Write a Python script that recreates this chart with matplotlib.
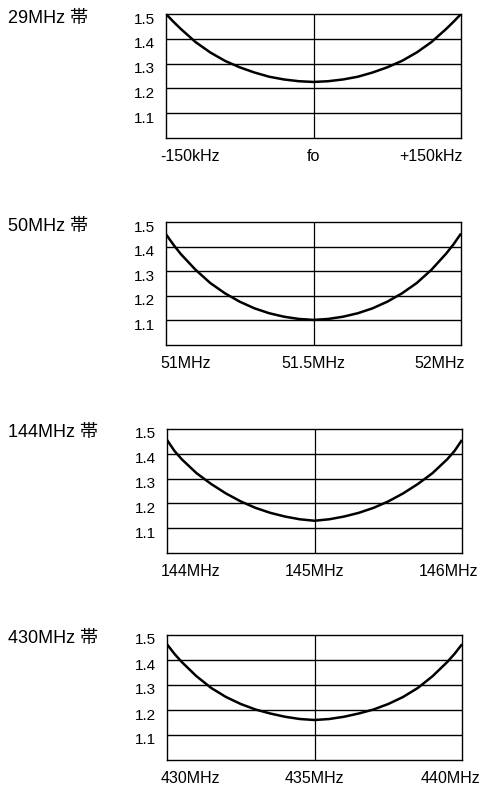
import matplotlib.pyplot as plt
import matplotlib.transforms as mtransforms

plt.rcParams['font.family'] = ['Liberation Sans', 'Noto Sans CJK JP', 'DejaVu Sans']

# band titles
bands = ["29MHz 帯", "50MHz 帯", "144MHz 帯", "430MHz 帯"]

# frequencies (x) and SWR
freq_29 = [-150, -142.5, -135, -120, -105, -90, -75, -60, -45, -30, -15, 0,
           15, 30, 45, 60, 75, 90, 105, 120, 135, 142.5, 150]
swr_29 = [1.50, 1.469, 1.44, 1.387, 1.345, 1.311, 1.285, 1.264, 1.247, 1.236, 1.229, 1.226,
          1.229, 1.236, 1.247, 1.264, 1.285, 1.311, 1.345, 1.387, 1.44, 1.469, 1.50]

freq_50 = [51.0, 51.025, 51.05, 51.1, 51.15, 51.2, 51.25, 51.3, 51.35, 51.4, 51.45, 51.5,
           51.55, 51.6, 51.65, 51.7, 51.75, 51.8, 51.85, 51.9, 51.95, 51.975, 52.0]
swr_50 = [1.45, 1.408, 1.37, 1.306, 1.252, 1.21, 1.176, 1.149, 1.129, 1.115, 1.106, 1.102,
          1.106, 1.115, 1.129, 1.149, 1.176, 1.21, 1.252, 1.306, 1.372, 1.41, 1.453]

freq_144 = [144.0, 144.05, 144.1, 144.2, 144.3, 144.4, 144.5, 144.6, 144.7, 144.8, 144.9, 145.0,
            145.1, 145.2, 145.3, 145.4, 145.5, 145.6, 145.7, 145.8, 145.9, 145.95, 146.0]
swr_144 = [1.456, 1.412, 1.378, 1.322, 1.278, 1.24, 1.208, 1.182, 1.162, 1.147, 1.136, 1.13,
           1.136, 1.147, 1.162, 1.182, 1.208, 1.24, 1.278, 1.322, 1.378, 1.412, 1.456]

freq_430 = [430.0, 430.25, 430.5, 431.0, 431.5, 432.0, 432.5, 433.0, 433.5, 434.0, 434.5, 435.0,
            435.5, 436.0, 436.5, 437.0, 437.5, 438.0, 438.5, 439.0, 439.5, 439.75, 440.0]
swr_430 = [1.463, 1.425, 1.392, 1.335, 1.288, 1.252, 1.224, 1.202, 1.186, 1.173, 1.164, 1.16,
           1.164, 1.173, 1.186, 1.202, 1.224, 1.252, 1.288, 1.335, 1.392, 1.425, 1.463]

xticks = [[-150, 0, 150], [51.0, 51.5, 52.0], [144.0, 145.0, 146.0], [430.0, 435.0, 440.0]]
xlabels = [["-150kHz", "fo", "+150kHz"],
           ["51MHz", "51.5MHz", "52MHz"],
           ["144MHz", "145MHz", "146MHz"],
           ["430MHz", "435MHz", "440MHz"]]
yticks = [1.1, 1.2, 1.3, 1.4, 1.5]
ylabels = ["1.1", "1.2", "1.3", "1.4", "1.5"]

freqs = [freq_29, freq_50, freq_144, freq_430]
swrs = [swr_29, swr_50, swr_144, swr_430]

W, H = 482, 785
fig = plt.figure(figsize=(W / 100, H / 100), dpi=100)

# pixel boxes (left, top, right, bottom) of each plot
boxes = [(166, 14, 461, 138), (166, 222, 461, 345), (167, 429, 462, 553), (167, 635, 462, 760)]
right_shift = [2, 4, 16, 18]

for i in range(4):
    l, t, r, b = boxes[i]
    ax = fig.add_axes([l / W, 1 - b / H, (r - l) / W, (b - t) / H])
    x = freqs[i]
    ax.set_xlim(x[0], x[-1])
    ax.set_ylim(1.0, 1.5)
    for yv in yticks[:-1]:
        ax.axhline(yv, color="black", lw=1.0, zorder=1)
    ax.axvline(xticks[i][1], color="black", lw=0.9, zorder=1)
    ax.plot(x, swrs[i], color="black", lw=1.8, zorder=3, solid_capstyle="butt")

    for s in ax.spines.values():
        s.set_linewidth(1.0)
    ax.tick_params(length=0, pad=8)
    ax.tick_params(axis="y", labelsize=11)
    ax.tick_params(axis="x", labelsize=11.5)
    ax.set_yticks(yticks)
    ax.set_yticklabels(ylabels)
    ax.set_xticks(xticks[i])
    ax.set_xticklabels(xlabels[i])

    for lab in ax.get_yticklabels():
        lab.set_transform(lab.get_transform() +
                          mtransforms.ScaledTranslation(0, -4 / 100, fig.dpi_scale_trans))
    xl = ax.get_xticklabels()
    xl[0].set_ha("left")
    xl[0].set_transform(xl[0].get_transform() +
                        mtransforms.ScaledTranslation(-6 / 100, 0, fig.dpi_scale_trans))
    xl[2].set_ha("right")
    xl[2].set_transform(xl[2].get_transform() +
                        mtransforms.ScaledTranslation(right_shift[i] / 100, 0, fig.dpi_scale_trans))

    fig.text(8 / W, 1 - (t + 4) / H, bands[i], fontsize=13, ha="left", va="center")

fig.savefig("out.png", dpi=100)
